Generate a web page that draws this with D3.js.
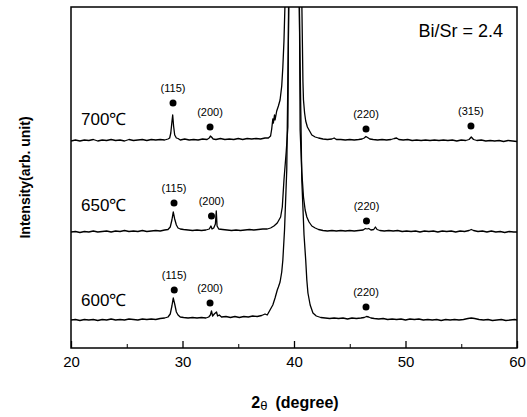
<!DOCTYPE html>
<html>
<head>
<meta charset="utf-8">
<script src="https://cdn.jsdelivr.net/npm/d3@7"></script>
<style>
  body { margin: 0; background: #fff; }
  text { font-family: "Liberation Sans", Arial, sans-serif; fill: #000; }
</style>
</head>
<body>
<div class="chart"></div>
<script>
// ---- data, [2theta, intensity above the trace's own baseline] ----
var temps = ['600', '650', '700']
var offsets = [28, 116, 207]        // vertical stacking of the patterns (arb. units)
var tempLabelHeight = [14, 21, 16]

var trace600 = [[20,0],[20.4,0.5],[20.8,-0.5],[21.2,0.5],[21.6,0],[22,0.5],[22.4,-0.5],[22.8,0.5],[23.2,0],[23.6,1],[24,0],[24.4,0.5],[24.8,0],[25.2,1],[25.6,0.5],[26,0],[26.4,1],[26.8,0.5],[27.2,1],[27.6,0.5],[28,1.5],[28.4,2],[28.7,3],[28.9,6],[29.05,14],[29.17,22],[29.3,16],[29.45,8],[29.6,5],[29.8,3],[30.1,2.5],[30.5,2],[30.9,2.5],[31.3,2],[31.7,2.5],[32.1,2],[32.35,3],[32.5,5],[32.6,9],[32.7,4],[32.85,6],[33.05,8],[33.15,4],[33.3,5],[33.5,3],[33.9,3.5],[34.3,2.5],[34.7,3.5],[35.1,2.5],[35.5,3.5],[35.9,3],[36.3,4],[36.7,3.5],[37.1,4.5],[37.4,6],[37.6,5],[37.85,10],[38.1,15],[38.3,22],[38.5,30],[38.6,33],[38.75,38],[38.9,48],[39.0,60],[39.15,90],[39.35,150],[39.55,330],[39.95,1500],[40.45,330],[40.7,140],[40.9,85],[41.05,60],[41.15,40],[41.25,27],[41.45,15],[41.7,7],[42.0,4],[42.4,2.5],[42.8,2],[43.2,1.5],[43.6,2],[44,1.5],[44.4,2],[44.8,1],[45.2,2],[45.6,1.5],[46,2],[46.3,2.5],[46.5,3.5],[46.7,3],[46.9,2],[47.2,1.5],[47.6,1],[48,1.5],[48.4,0.5],[48.8,1],[49.2,0.5],[49.6,1],[50,0],[50.4,1],[50.8,0.5],[51.2,1],[51.6,0],[52,0.5],[52.4,0],[52.8,0.5],[53.2,-0.5],[53.6,0.5],[54,0],[54.4,0.5],[54.8,0],[55.2,0.5],[55.6,1.5],[55.9,2],[56.2,1.5],[56.6,0.5],[57,0],[57.4,0.5],[57.8,-0.5],[58.2,0],[58.6,0.5],[59,-0.5],[59.4,0],[59.8,0.5],[60,0]]

var trace650 = [[20,0],[20.4,0.5],[20.8,-0.5],[21.2,0.5],[21.6,0],[22,1],[22.4,0],[22.8,0.5],[23.2,1],[23.6,0],[24,1],[24.4,0.5],[24.8,1.5],[25.2,0.5],[25.6,1],[26,0.5],[26.4,1.5],[26.8,0.5],[27.2,1],[27.6,1.5],[28,1],[28.4,2],[28.7,2.5],[28.9,5],[29.05,12],[29.17,20],[29.3,13],[29.45,7],[29.6,4],[29.8,3],[30.1,2.5],[30.5,2],[30.9,1.5],[31.3,2],[31.7,1.5],[32.1,2],[32.4,3],[32.55,6],[32.65,3],[32.8,4],[32.95,8],[33.03,21],[33.1,6],[33.25,3],[33.6,2.5],[34,2],[34.4,1.5],[34.8,2],[35.2,1.5],[35.6,2],[36,2.5],[36.4,2],[36.8,2.5],[37.2,3],[37.6,3],[37.9,4],[38.2,6],[38.5,9],[38.8,15],[38.95,25],[39.1,52],[39.3,80],[39.45,105],[39.55,300],[39.95,1500],[40.45,300],[40.55,102],[40.7,60],[40.85,35],[41.0,22],[41.15,15],[41.35,10],[41.6,6],[41.9,4],[42.2,2.5],[42.6,1.5],[43,1],[43.4,1.5],[43.8,1],[44.2,1.5],[44.6,1],[45,1.5],[45.4,1],[45.8,1.5],[46.2,2],[46.4,3.5],[46.55,3],[46.7,3.5],[46.9,2],[47.15,2.5],[47.3,5],[47.45,2.5],[47.7,1.5],[48.1,1],[48.5,1.5],[48.9,1],[49.3,1.5],[49.7,0.5],[50.1,1],[50.5,0.5],[50.9,1],[51.3,0],[51.7,1],[52.1,0.5],[52.5,1],[52.9,0],[53.3,1],[53.7,0.5],[54.1,1],[54.5,0],[54.9,1],[55.3,0.5],[55.7,1.5],[55.9,2.5],[56.1,1.5],[56.5,0.5],[56.9,1],[57.3,0],[57.7,1],[58.1,0],[58.5,0.5],[58.9,-0.5],[59.3,0.5],[59.7,0],[60,0]]

var trace700 = [[20,0],[20.4,1],[20.8,0],[21.2,1],[21.6,0.5],[22,1.5],[22.4,0],[22.8,1],[23.2,0.5],[23.6,1.5],[24,0.5],[24.4,1],[24.8,0],[25.2,1.5],[25.6,0.5],[26,1],[26.4,1.5],[26.8,0.5],[27.2,1.5],[27.6,1],[28,1.5],[28.4,1],[28.7,2],[28.85,3],[28.95,8],[29.05,19],[29.12,26],[29.2,15],[29.3,6],[29.45,3],[29.6,2.5],[29.8,1],[30.2,2],[30.6,1],[31,1.5],[31.4,1],[31.8,2],[32.2,1.5],[32.4,3],[32.5,5],[32.6,4],[32.75,2],[33,1.5],[33.4,2.5],[33.8,1.5],[34.2,2],[34.6,1.5],[35,2.5],[35.4,1.5],[35.8,2.5],[36.2,2],[36.6,2.5],[37,2],[37.4,3],[37.7,3],[37.9,5],[38.0,12],[38.1,22],[38.15,18],[38.25,26],[38.3,21],[38.45,30],[38.6,35],[38.75,41],[38.9,55],[39.0,74],[39.1,100],[39.2,140],[39.3,300],[39.9,1500],[40.65,300],[40.7,140],[40.8,60],[40.85,41],[40.95,28],[41.05,20],[41.2,14],[41.4,10],[41.6,6],[41.9,4],[42.2,3],[42.6,2],[43,1.5],[43.4,2],[43.6,3],[43.8,1.5],[44.2,1.5],[44.6,1],[45,1.5],[45.4,1],[45.8,1.5],[46.1,2],[46.3,3],[46.45,4.5],[46.6,3.5],[46.8,2],[47.1,1.5],[47.5,1],[47.9,1.5],[48.3,1],[48.7,1.5],[49.0,2.5],[49.2,3],[49.4,1.5],[49.8,1],[50.2,1.5],[50.6,0.5],[51,1],[51.4,0.5],[51.8,1],[52.2,0.5],[52.6,1],[53,0.5],[53.4,1],[53.8,0.5],[54.2,1],[54.6,0],[55,1],[55.4,0.5],[55.7,1.5],[55.9,4],[56.1,1.5],[56.4,0.5],[56.8,1],[57.2,0],[57.6,0.5],[58,0],[58.4,0.5],[58.8,-0.5],[59.2,0.5],[59.6,0],[60,-0.5]]

// peak markers: [hkl, 2theta, height of the dot above the trace baseline]
var peaks600 = [['(115)', 29.26, 30], ['(200)', 32.47, 17], ['(220)', 46.46, 13]]
var peaks650 = [['(115)', 29.24, 29], ['(200)', 32.6, 16], ['(220)', 46.5, 11]]
var peaks700 = [['(115)', 29.15, 38], ['(200)', 32.47, 14], ['(220)', 46.46, 12], ['(315)', 55.87, 15]]

var xTicks = [20, 30, 40, 50, 60]
var xMinorTicks = [25, 35, 45, 55]

var traces = [trace600, trace650, trace700]
var peaks = [peaks600, peaks650, peaks700]

// **************
// **** MAIN ****
// **************
var margin = { top: 7, right: 10, bottom: 69, left: 71 }
var width = 527 - margin.left - margin.right
var height = 417 - margin.top - margin.bottom

var svg = d3.select('.chart').append('svg')
  .attr('width', 527)
  .attr('height', 417)
  .append('g')
  .attr('transform', 'translate(' + margin.left + ',' + margin.top + ')')

var x = d3.scaleLinear().domain([20, 60]).range([0, width])
var y = d3.scaleLinear().domain([0, 341]).range([height, 0])

svg.append('clipPath').attr('id', 'plot')
  .append('rect').attr('width', width).attr('height', height)

var line = d3.line()
  .x(d => x(d[0]))
  .y(d => y(d[1]))

// patterns, each one lifted by its offset
var plot = svg.append('g').attr('clip-path', 'url(#plot)')
traces.forEach((t, i) => {
  plot.append('path')
    .datum(t.map(d => [d[0], d[1] + offsets[i]]))
    .attr('d', line)
    .attr('fill', 'none')
    .attr('stroke', '#000')
    .attr('stroke-width', 1.3)
    .attr('stroke-linejoin', 'round')
})

// dots and hkl labels
peaks.forEach((p, i) => {
  var g = svg.append('g')
  g.selectAll('circle').data(p).enter().append('circle')
    .attr('cx', d => x(d[1]))
    .attr('cy', d => y(d[2] + offsets[i]))
    .attr('r', 3.5)
    .attr('fill', '#000')
  g.selectAll('text').data(p).enter().append('text')
    .attr('x', d => x(d[1]))
    .attr('y', d => y(d[2] + offsets[i]) - 11)
    .attr('text-anchor', 'middle')
    .style('font-size', '11px')
    .text(d => d[0])
})

// temperature labels
svg.selectAll('text.temp').data(temps).enter().append('text')
  .attr('class', 'temp')
  .attr('x', 10)
  .attr('y', (d, i) => y(offsets[i] + tempLabelHeight[i]))
  .style('font-size', '17px')
  .text(d => d + '\u2103')

svg.append('text')
  .attr('x', width - 14)
  .attr('y', 30)
  .attr('text-anchor', 'end')
  .style('font-size', '18px')
  .text('Bi/Sr = 2.4')

// axes, ticks pointing inwards
var xAxis = svg.append('g')
  .attr('transform', 'translate(0,' + height + ')')
  .call(d3.axisBottom(x).tickValues(xTicks).tickSizeInner(-7).tickSizeOuter(0).tickPadding(8))
xAxis.select('.domain').remove()
xAxis.selectAll('text').style('font-size', '15px')
xAxis.selectAll('line').attr('stroke-width', 1.3)

var xMinor = svg.append('g')
  .attr('transform', 'translate(0,' + height + ')')
  .call(d3.axisBottom(x).tickValues(xMinorTicks).tickSizeInner(-4).tickSizeOuter(0).tickFormat(''))
xMinor.select('.domain').remove()

svg.append('rect')
  .attr('width', width)
  .attr('height', height)
  .attr('fill', 'none')
  .attr('stroke', '#000')
  .attr('stroke-width', 1.5)

// axis titles
var xt = svg.append('text')
  .attr('x', width / 2 + 1)
  .attr('y', height + 60)
  .attr('text-anchor', 'middle')
  .style('font-size', '16px')
  .style('font-weight', 'bold')
xt.append('tspan').text('2')
xt.append('tspan').attr('dy', 2).style('font-size', '13px').style('font-weight', 'normal').text('\u03b8')
xt.append('tspan').attr('dy', -2).attr('dx', 8).text('(degree)')

svg.append('text')
  .attr('transform', 'translate(' + (30 - margin.left) + ',' + (height / 2) + ') rotate(-90)')
  .attr('text-anchor', 'middle')
  .style('font-size', '14px')
  .style('font-weight', 'bold')
  .text('Intensity(arb. unit)')
</script>
</body>
</html>
